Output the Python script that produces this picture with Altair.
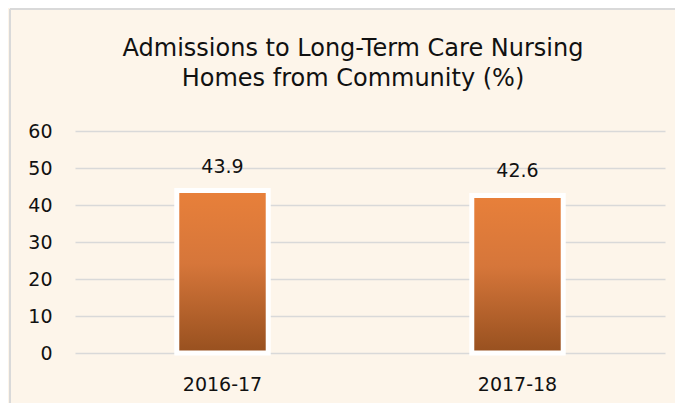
import altair as alt
import pandas as pd

years = ["2016-17", "2017-18"]
values = [43.9, 42.6]
labels = ["43.9", "42.6"]
y_ticks = [0, 10, 20, 30, 40, 50, 60]

df = pd.DataFrame({"year": years, "value": values, "label": labels})

FONT = "DejaVu Sans"
TXT = "#111111"

gradient = alt.Gradient(
    gradient="linear",
    stops=[
        alt.GradientStop(color="#E8803A", offset=0),
        alt.GradientStop(color="#D6763A", offset=0.45),
        alt.GradientStop(color="#97501F", offset=1),
    ],
    x1=0, x2=0, y1=0, y2=1,
)

base = alt.Chart(df)

x_enc = alt.X(
    "year:N",
    sort=years,
    title=None,
    scale=alt.Scale(paddingInner=0.69, paddingOuter=0.345),
    axis=alt.Axis(labelAngle=0, domain=False, ticks=False, grid=False,
                  labelPadding=22, labelFontSize=19, labelFont=FONT,
                  labelColor=TXT, labelBaseline="top"),
)

y_enc = alt.Y(
    "value:Q",
    title=None,
    scale=alt.Scale(domain=[0, 60], nice=False),
    axis=alt.Axis(values=y_ticks, tickCount=10, domain=False, ticks=False,
                  grid=True, gridColor="#D9D9D9", gridWidth=1.5,
                  labelOverlap=False,
                  labelPadding=23, labelFontSize=19, labelFont=FONT,
                  labelColor=TXT),
)

bars = base.mark_bar(fill=gradient, stroke="white", strokeWidth=5).encode(
    x=x_enc,
    y=y_enc,
)

text = base.mark_text(dy=-18, baseline="alphabetic", fontSize=19, font=FONT, color=TXT).encode(
    x=x_enc,
    y=y_enc,
    text="label:N",
)

frame_left = alt.Chart(alt.Data(values=[{}])).mark_rule(color="#D9D9D9", strokeWidth=2).encode(
    x=alt.value(-65), y=alt.value(-122), y2=alt.value(272)
)
frame_top = alt.Chart(alt.Data(values=[{}])).mark_rule(color="#D9D9D9", strokeWidth=2).encode(
    x=alt.value(-65), x2=alt.value(600), y=alt.value(-122)
)

chart = alt.layer(bars, text, frame_left, frame_top).properties(
    width=590,
    height=222,
    autosize=alt.AutoSizeParams(type="none"),
    padding={"left": 67, "top": 123, "right": 10, "bottom": 50},
    background="#FDF5EA",
    title=alt.TitleParams(
        text=["Admissions to Long-Term Care Nursing", "Homes from Community (%)"],
        font=FONT, fontSize=24, fontWeight="normal", color=TXT,
        anchor="middle", frame="group", dx=-17, offset=-83,
        lineHeight=30,
    ),
).configure_view(stroke=None)

chart.save("out.html", embed_options={"renderer": "svg", "actions": False})
